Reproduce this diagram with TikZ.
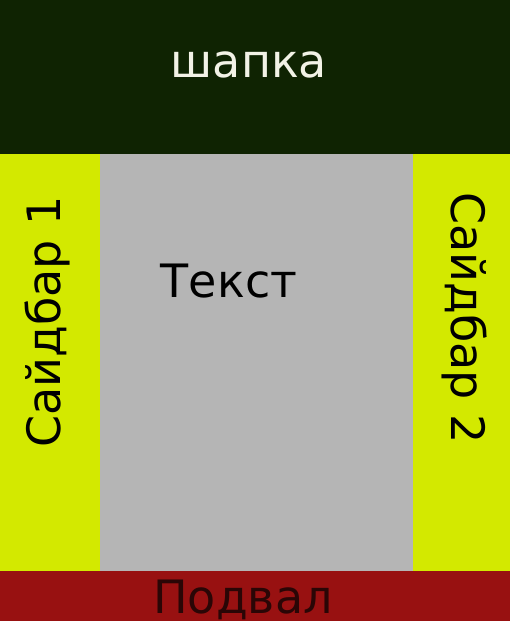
\documentclass[tikz,border=0pt]{standalone}
\usepackage{fontspec}
\setmainfont{DejaVu Sans}
\definecolor{hdr}{HTML}{0F2302}
\definecolor{side}{HTML}{D3E900}
\definecolor{mainc}{HTML}{B5B5B5}
\definecolor{foot}{HTML}{981111}
\definecolor{hdrtxt}{HTML}{F2F2E6}
\definecolor{foottxt}{HTML}{2A0606}
\begin{document}
\begin{tikzpicture}[x=1pt,y=-1pt,
  lbl/.style={inner sep=0pt,anchor=base,font=\fontsize{46}{55}\selectfont}]
\useasboundingbox (0,0) rectangle (510,621);
\fill[hdr] (0,0) rectangle (510,154);
\fill[side] (0,154) rectangle (100,571);
\fill[mainc] (100,154) rectangle (413,571);
\fill[side] (413,154) rectangle (510,571);
\fill[foot] (0,571) rectangle (510,621);
\node[lbl,text=hdrtxt] (header) at (249,77) {шапка};
\node[lbl,text=black] (content) at (229,297) {Текст};
\node[lbl,text=black,rotate=90] (side1) at (60,322) {Сайдбар 1};
\node[lbl,text=black,rotate=-90] (side2) at (451,318) {Сайдбар 2};
\node[lbl,text=foottxt] (footer) at (243,613) {Подвал};
\end{tikzpicture}
\end{document}
